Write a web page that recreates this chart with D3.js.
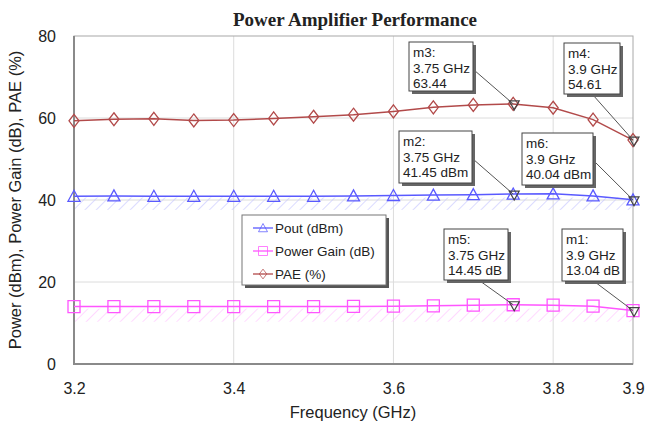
<!DOCTYPE html>
<html>
<head>
<meta charset="utf-8">
<title>Power Amplifier Performance</title>
<script src="https://cdn.jsdelivr.net/npm/d3@7/dist/d3.min.js"></script>
<style>
  body { margin:0; background:#fff; }
  text { font-family: "Liberation Sans", Arial, sans-serif; fill:#222; }
  .title { font-family: "Liberation Serif", "Times New Roman", serif; font-weight:bold; font-size:19px; }
  .mk text { font-size:13.5px; }
</style>
</head>
<body>
<script>
// data
var freq = [3.2, 3.25, 3.3, 3.35, 3.4, 3.45, 3.5, 3.55, 3.6, 3.65, 3.7, 3.75, 3.8, 3.85, 3.9];
var pout = [40.9, 41.0, 40.9, 40.9, 40.9, 40.9, 40.9, 41.0, 41.1, 41.2, 41.3, 41.45, 41.5, 41.0, 40.04];
var gain = [14.0, 14.0, 14.0, 14.0, 14.0, 14.0, 14.0, 14.05, 14.1, 14.2, 14.35, 14.45, 14.35, 14.1, 13.04];
var pae  = [59.3, 59.7, 59.8, 59.4, 59.5, 59.9, 60.3, 60.8, 61.6, 62.6, 63.2, 63.44, 62.5, 59.6, 54.61];
var seriesNames = ["Pout (dBm)", "Power Gain (dB)", "PAE (%)"];
// hatched spec bands (low, high)
var poutBand = [37.6, 40.6];
var gainBand = [10.3, 13.5];
var xTicks = [3.2, 3.4, 3.6, 3.8, 3.9];
var yTicks = [0, 20, 40, 60, 80];
// marker readouts: name, freq, value, unit
var markers = [
  ["m3", 3.75, 63.44, ""],
  ["m4", 3.9, 54.61, ""],
  ["m2", 3.75, 41.45, " dBm"],
  ["m6", 3.9, 40.04, " dBm"],
  ["m5", 3.75, 14.45, " dB"],
  ["m1", 3.9, 13.04, " dB"]
];
// readout box layout: x, y, w, h, leader start x, leader start y
var boxes = [
  [409, 42, 64, 49, 474, 70],
  [564, 43, 56, 51, 593, 95],
  [399, 131, 73, 52, 473, 159],
  [522, 133, 71, 52, 594, 161],
  [444, 229, 64, 51, 480, 281],
  [562, 229, 61, 52, 595, 282]
];

var W = 645, H = 427;
var x = d3.scaleLinear().domain([3.2, 3.9]).range([74, 633]);
var y = d3.scaleLinear().domain([0, 80]).range([364, 36]);

var svg = d3.select("body").append("svg").attr("width", W).attr("height", H);
var defs = svg.append("defs");

function hatch(id, col) {
  var p = defs.append("pattern").attr("id", id).attr("patternUnits", "userSpaceOnUse")
    .attr("width", 8).attr("height", 8).attr("patternTransform", "rotate(45)");
  p.append("line").attr("x1", 0).attr("y1", 0).attr("x2", 0).attr("y2", 8)
    .attr("stroke", col).attr("stroke-width", 1.3);
}
hatch("hb", "#c8c8ff");
hatch("hp", "#ffc4ff");

svg.append("text").attr("class", "title").attr("x", 355).attr("y", 26)
  .attr("text-anchor", "middle").text("Power Amplifier Performance");

// grid
var g = svg.append("g");
g.selectAll(".gx").data(xTicks.slice(1, 4)).enter().append("line")
  .attr("x1", function(d){ return x(d); }).attr("x2", function(d){ return x(d); })
  .attr("y1", y(80)).attr("y2", y(0)).attr("stroke", "#dcdcdc");
g.selectAll(".gy").data(yTicks.slice(1, 4)).enter().append("line")
  .attr("x1", x(3.2)).attr("x2", x(3.9))
  .attr("y1", function(d){ return y(d); }).attr("y2", function(d){ return y(d); })
  .attr("stroke", "#dcdcdc");

// hatched bands
g.append("rect").attr("x", x(3.2)).attr("width", x(3.9) - x(3.2))
  .attr("y", y(poutBand[1])).attr("height", y(poutBand[0]) - y(poutBand[1])).attr("fill", "url(#hb)");
g.append("rect").attr("x", x(3.2)).attr("width", x(3.9) - x(3.2))
  .attr("y", y(gainBand[1])).attr("height", y(gainBand[0]) - y(gainBand[1])).attr("fill", "url(#hp)");

// plot frame
g.append("rect").attr("x", x(3.2)).attr("y", y(80)).attr("width", x(3.9) - x(3.2))
  .attr("height", y(0) - y(80)).attr("fill", "none").attr("stroke", "#a8a8a8");
g.append("path").attr("d", "M" + x(3.2) + "," + y(80) + "V" + y(0) + "H" + x(3.9))
  .attr("fill", "none").attr("stroke", "#8a8a8a").attr("stroke-width", 2);

// axes (tick labels only)
var xAxis = d3.axisBottom(x).tickValues(xTicks).tickSize(0).tickPadding(19).tickFormat(d3.format(".1f"));
var ax = svg.append("g").attr("transform", "translate(0," + y(0) + ")").call(xAxis);
var yAxis = d3.axisLeft(y).tickValues(yTicks).tickSize(0).tickPadding(18);
var ay = svg.append("g").attr("transform", "translate(" + x(3.2) + ",0)").call(yAxis);
[ax, ay].forEach(function(a){
  a.select(".domain").remove();
  a.selectAll("text").attr("font-size", 16).attr("font-family", "Liberation Sans, Arial, sans-serif").attr("fill", "#222");
});

svg.append("text").attr("x", 353).attr("y", 418).attr("text-anchor", "middle")
  .attr("font-size", 16.5).text("Frequency (GHz)");
svg.append("text").attr("transform", "translate(21,200) rotate(-90)").attr("text-anchor", "middle")
  .attr("font-size", 16.5).text("Power (dBm), Power Gain (dB), PAE (%)");

// series
var triangle = "M0,-6L6,5L-6,5Z";
var square = "M-6,-6H6V6H-6Z";
var diamond = "M0,-6.5L5,0L0,6.5L-5,0Z";
var series = [
  {vals: pout, col: "#5a5aff", sym: triangle},
  {vals: gain, col: "#ff55ff", sym: square},
  {vals: pae, col: "#b24a4a", sym: diamond}
];
var line = d3.line().x(function(d){ return x(d[0]); }).y(function(d){ return y(d[1]); });
series.forEach(function(s){
  var pts = freq.map(function(f, i){ return [f, s.vals[i]]; });
  g.append("path").datum(pts).attr("d", line).attr("fill", "none")
    .attr("stroke", s.col).attr("stroke-width", 1.5);
  g.selectAll(null).data(pts).enter().append("path")
    .attr("d", s.sym).attr("fill", "none").attr("stroke", s.col).attr("stroke-width", 1.3)
    .attr("transform", function(d){ return "translate(" + x(d[0]) + "," + y(d[1]) + ")"; });
});

// legend
var lg = svg.append("g");
lg.append("rect").attr("x", 245).attr("y", 218).attr("width", 144).attr("height", 70).attr("fill", "#555");
lg.append("rect").attr("x", 242).attr("y", 215).attr("width", 144).attr("height", 70)
  .attr("fill", "#fff").attr("stroke", "#777");
series.forEach(function(s, i){
  var ly = 228 + i * 23;
  lg.append("line").attr("x1", 253).attr("x2", 273).attr("y1", ly).attr("y2", ly)
    .attr("stroke", s.col).attr("stroke-width", 1.3);
  lg.append("path").attr("d", s.sym).attr("fill", "none").attr("stroke", s.col)
    .attr("transform", "translate(263," + ly + ") scale(0.75)");
  lg.append("text").attr("x", 275).attr("y", ly + 5).attr("font-size", 13.5).text(seriesNames[i]);
});

// marker readouts
markers.forEach(function(m, i){
  var b = boxes[i];
  var mg = svg.append("g").attr("class", "mk");
  var px = x(m[1]), py = y(m[2]);
  mg.append("line").attr("x1", b[4]).attr("y1", b[5]).attr("x2", px).attr("y2", py)
    .attr("stroke", "#555").attr("stroke-width", 1);
  mg.append("path").attr("d", "M-5,-4H5L0,5Z").attr("fill", "none").attr("stroke", "#444")
    .attr("stroke-width", 1.2).attr("transform", "translate(" + (px + 1) + "," + (py + 1) + ")");
  mg.append("rect").attr("x", b[0] + 3).attr("y", b[1] + 3).attr("width", b[2]).attr("height", b[3]).attr("fill", "#666");
  mg.append("rect").attr("x", b[0]).attr("y", b[1]).attr("width", b[2]).attr("height", b[3])
    .attr("fill", "#fff").attr("stroke", "#444");
  var lines = [m[0] + ":", m[1] + " GHz", m[2].toFixed(2) + m[3]];
  lines.forEach(function(t, k){
    mg.append("text").attr("x", b[0] + 4).attr("y", b[1] + 15 + k * 15.5).text(t);
  });
});
</script>
</body>
</html>
